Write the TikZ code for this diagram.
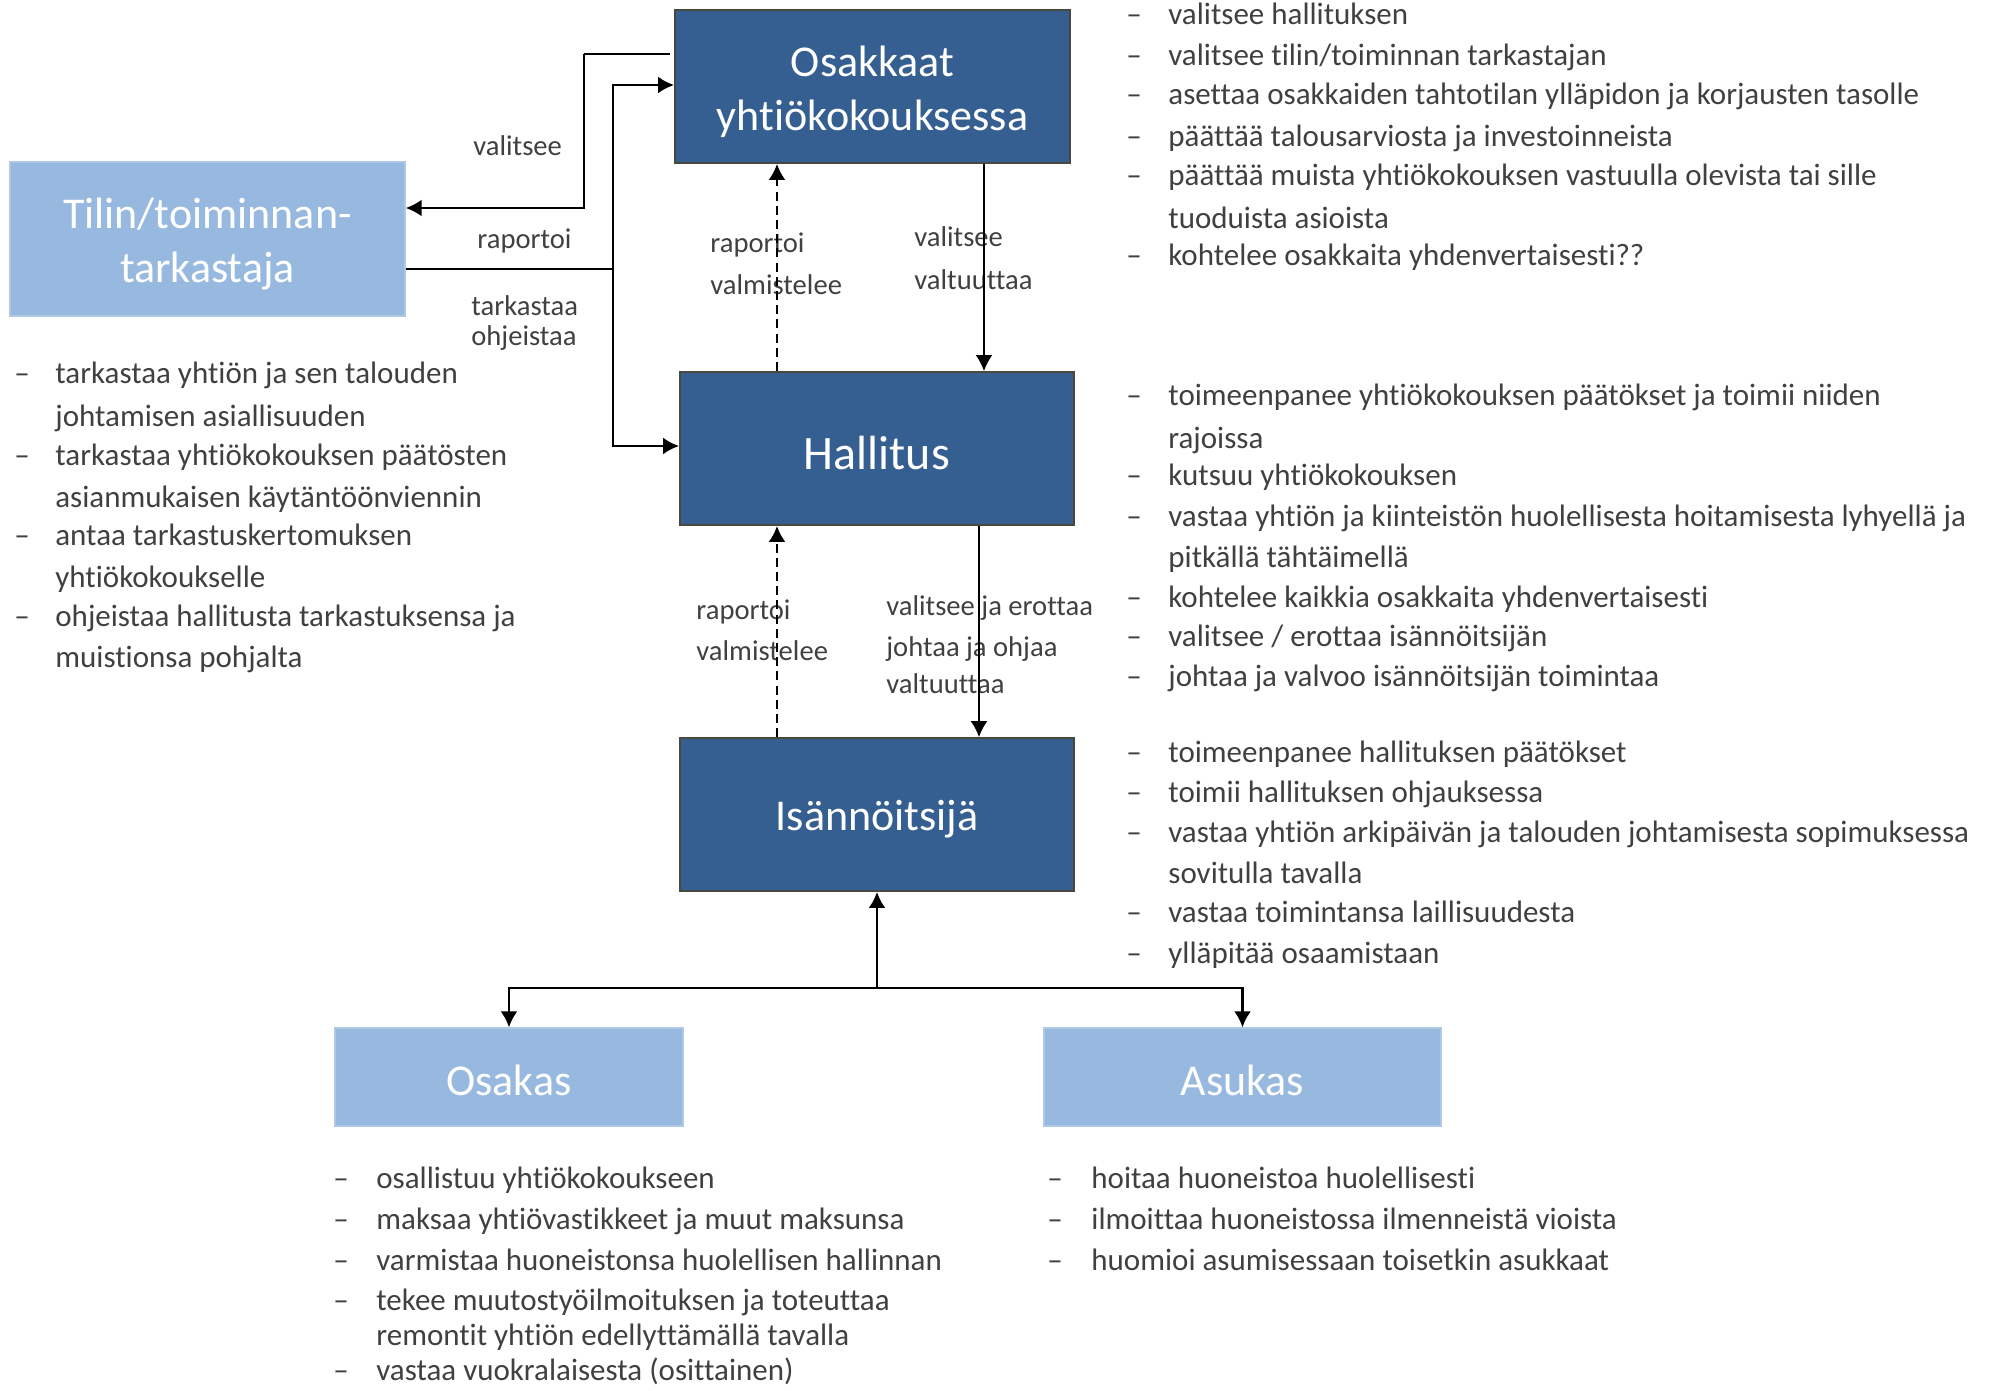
\documentclass[tikz,border=0pt]{standalone}
\usepackage{fontspec}
\setmainfont{Carlito}[Ligatures={NoCommon}]
\usetikzlibrary{arrows.meta}

\definecolor{boxdark}{RGB}{54,95,145}
\definecolor{boxdarkedge}{RGB}{72,72,62}
\definecolor{boxlight}{RGB}{152,185,223}
\definecolor{boxlightedge}{RGB}{175,200,230}
\definecolor{txtgray}{RGB}{64,64,64}

% one list line: dash node and text node
\newcommand\dashitem[5]{%
  \node[itemdash] (#1d) at (#2,#4+3) {–};
  \node[itemtext] (#1) at (#3,#4+3) {#5};}
\newcommand\contitem[4]{%
  \node[itemtext] (#1) at (#2,#3+3) {#4};}

\begin{document}
\begin{tikzpicture}[x=0.5pt,y=-0.5pt,
  darkbox/.style={rectangle, fill=boxdark, draw=boxdarkedge, line width=0.9pt,
    inner sep=0pt},
  lightbox/.style={rectangle, fill=boxlight, draw=boxlightedge, line width=0.6pt,
    inner sep=0pt},
  boxtext/.style={inner sep=0pt, text=white, align=center, yshift=-2.5pt,
    font=\fontsize{22}{27}\selectfont},
  itemtext/.style={anchor=base west, inner sep=0pt, text=txtgray,
    font=\fontsize{15.5}{18}\selectfont},
  itemdash/.style={anchor=base, inner sep=0pt, text=txtgray,
    font=\fontsize{15.5}{18}\selectfont},
  lbl/.style={anchor=base west, inner sep=0pt, text=txtgray,
    font=\fontsize{14.3}{17}\selectfont},
  tip/.style={-{Latex[length=8pt,width=8.5pt]}},
  heavy/.style={line width=1.4pt},
  solidln/.style={line width=1pt},
  dashln/.style={line width=1.3pt, dash pattern=on 4.5pt off 2.6pt},
]
\useasboundingbox (0,0) rectangle (1998,1391);

% ---- boxes ----
\node[darkbox, minimum width=197.5pt, minimum height=76.5pt] (osk) at (872.5,86.5) {};
\node[boxtext] (oskT) at (osk.center) {Osakkaat\\yhtiökokouksessa};
\node[lightbox, minimum width=197.5pt, minimum height=77pt] (tilin) at (207.5,239) {};
\node[boxtext] (tilinT) at (tilin.center) {Tilin/toiminnan-\\tarkastaja};
\node[darkbox, minimum width=197pt, minimum height=76.5pt] (hal) at (877,448.5) {};
\node[boxtext, font=\fontsize{24}{28}\selectfont] (halT) at (hal.center) {Hallitus};
\node[darkbox, minimum width=197pt, minimum height=76.5pt] (isa) at (877,814.5) {};
\node[boxtext] (isaT) at (isa.center) {Isännöitsijä};
\node[lightbox, minimum width=174pt, minimum height=49pt] (osa) at (509,1077) {};
\node[boxtext, yshift=1pt] (osaT) at (osa.center) {Osakas};
\node[lightbox, minimum width=198.5pt, minimum height=49pt] (asu) at (1242.5,1077) {};
\node[boxtext, yshift=1pt] (asuT) at (asu.center) {Asukas};

% ---- connector labels ----
\node[lbl] (l1) at (473,156) {valitsee};
\node[lbl] (l2) at (477,249) {raportoi};
\node[lbl] (l3) at (471,316) {tarkastaa};
\node[lbl] (l4) at (471,345) {ohjeistaa};
\node[lbl] (l5) at (710,253) {raportoi};
\node[lbl] (l6) at (710,295) {valmistelee};
\node[lbl] (l7) at (914,247) {valitsee};
\node[lbl] (l8) at (914,290) {valtuuttaa};
\node[lbl] (l9) at (696,619) {raportoi};
\node[lbl] (l10) at (696,660) {valmistelee};
\node[lbl] (l11) at (886,615) {valitsee ja erottaa};
\node[lbl] (l12) at (886,656) {johtaa ja ohjaa};
\node[lbl] (l13) at (886,693) {valtuuttaa};

% ---- connectors between the auditor and the meeting / board ----
\coordinate (selOut) at (584,54);
\coordinate (selDown) at (584,208);
\coordinate (busL) at (613,269);
\coordinate (busTop) at (613,85);
\coordinate (busBot) at (613,446);
\draw[heavy] ([xshift=-2pt]osk.west |- selOut) -- (selOut);
\draw[heavy, tip] (selOut) -- (selDown) -- (tilin.east |- selDown);
\draw[heavy] (tilin.east |- busL) -- (busL);
\draw[heavy, tip] (busL) -- (busTop) -- (osk.west |- busTop);
\draw[heavy, tip] (busL) -- (busBot) -- (hal.west |- busBot);

% ---- vertical chain ----
\coordinate (upX) at (777,0);
\coordinate (downX1) at (984,0);
\coordinate (downX2) at (979,0);
\draw[dashln, tip] (hal.north -| upX) -- (osk.south -| upX);
\draw[solidln, tip] (osk.south -| downX1) -- (hal.north -| downX1);
\draw[dashln, tip] (isa.north -| upX) -- (hal.south -| upX);
\draw[solidln, tip] (hal.south -| downX2) -- (isa.north -| downX2);

% ---- fork to the shareholder and the resident ----
\coordinate (forkY) at (0,988);
\draw[heavy, tip] (isa.south |- forkY) -- (isa.south);
\draw[heavy, tip] (isa.south |- forkY) -| (osa.north);
\draw[heavy, tip] (isa.south |- forkY) -| (asu.north);

% ---- duties of the general meeting ----
\dashitem{a1}{1134}{1168}{22}{valitsee hallituksen}
\dashitem{a2}{1134}{1168}{63}{valitsee tilin/toiminnan tarkastajan}
\dashitem{a3}{1134}{1168}{102}{asettaa osakkaiden tahtotilan ylläpidon ja korjausten tasolle}
\dashitem{a4}{1134}{1168}{144}{päättää talousarviosta ja investoinneista}
\dashitem{a5}{1134}{1168}{183}{päättää muista yhtiökokouksen vastuulla olevista tai sille}
\contitem{a6}{1168}{226}{tuoduista asioista}
\dashitem{a7}{1134}{1168}{263}{kohtelee osakkaita yhdenvertaisesti??}

% ---- duties of the board ----
\dashitem{b1}{1134}{1168}{402}{toimeenpanee yhtiökokouksen päätökset ja toimii niiden}
\contitem{b2}{1168}{445}{rajoissa}
\dashitem{b3}{1134}{1168}{482}{kutsuu yhtiökokouksen}
\dashitem{b4}{1134}{1168}{523}{vastaa yhtiön ja kiinteistön huolellisesta hoitamisesta lyhyellä ja}
\contitem{b5}{1168}{564}{pitkällä tähtäimellä}
\dashitem{b6}{1134}{1168}{604}{kohtelee kaikkia osakkaita yhdenvertaisesti}
\dashitem{b7}{1134}{1168}{643}{valitsee / erottaa isännöitsijän}
\dashitem{b8}{1134}{1168}{683}{johtaa ja valvoo isännöitsijän toimintaa}

% ---- duties of the property manager ----
\dashitem{c1}{1134}{1168}{759}{toimeenpanee hallituksen päätökset}
\dashitem{c2}{1134}{1168}{799}{toimii hallituksen ohjauksessa}
\dashitem{c3}{1134}{1168}{839}{vastaa yhtiön arkipäivän ja talouden johtamisesta sopimuksessa}
\contitem{c4}{1168}{880}{sovitulla tavalla}
\dashitem{c5}{1134}{1168}{919}{vastaa toimintansa laillisuudesta}
\dashitem{c6}{1134}{1168}{960}{ylläpitää osaamistaan}

% ---- duties of the auditor ----
\dashitem{d1}{22}{55}{380}{tarkastaa yhtiön ja sen talouden}
\contitem{d2}{55}{423}{johtamisen asiallisuuden}
\dashitem{d3}{22}{55}{463}{tarkastaa yhtiökokouksen päätösten}
\contitem{d4}{55}{504}{asianmukaisen käytäntöönviennin}
\dashitem{d5}{22}{55}{542}{antaa tarkastuskertomuksen}
\contitem{d6}{55}{584}{yhtiökokoukselle}
\dashitem{d7}{22}{55}{623}{ohjeistaa hallitusta tarkastuksensa ja}
\contitem{d8}{55}{664}{muistionsa pohjalta}

% ---- duties of the shareholder ----
\dashitem{e1}{341}{376}{1185}{osallistuu yhtiökokoukseen}
\dashitem{e2}{341}{376}{1226}{maksaa yhtiövastikkeet ja muut maksunsa}
\dashitem{e3}{341}{376}{1267}{varmistaa huoneistonsa huolellisen hallinnan}
\dashitem{e4}{341}{376}{1307}{tekee muutostyöilmoituksen ja toteuttaa}
\contitem{e5}{376}{1342}{remontit yhtiön edellyttämällä tavalla}
\dashitem{e6}{341}{376}{1377}{vastaa vuokralaisesta (osittainen)}

% ---- duties of the resident ----
\dashitem{f1}{1055}{1091}{1185}{hoitaa huoneistoa huolellisesti}
\dashitem{f2}{1055}{1091}{1226}{ilmoittaa huoneistossa ilmenneistä vioista}
\dashitem{f3}{1055}{1091}{1267}{huomioi asumisessaan toisetkin asukkaat}
\end{tikzpicture}
\end{document}
